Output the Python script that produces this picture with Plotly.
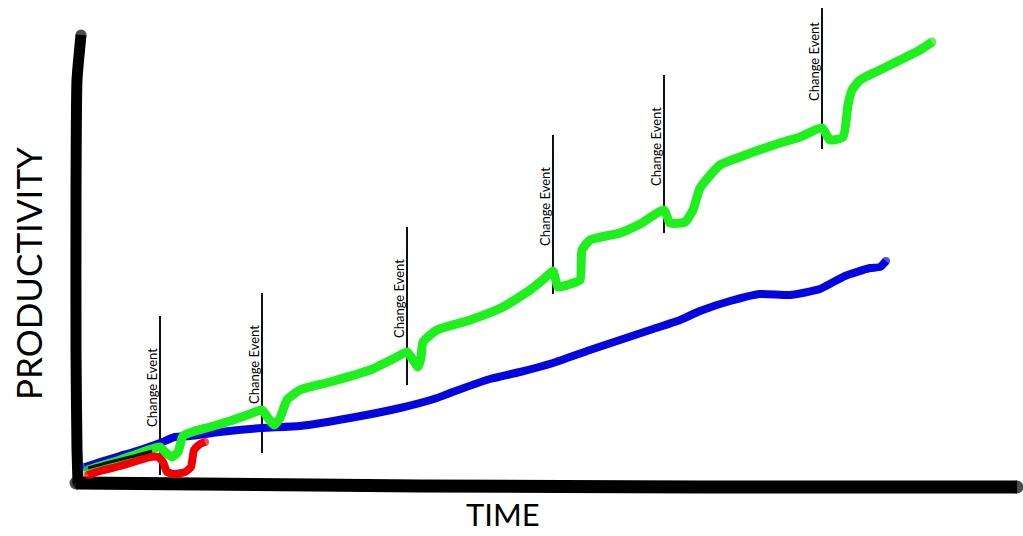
import plotly.graph_objects as go

# ---- data (time, productivity) ----
green_t = [8, 20, 40, 60, 80, 85, 92, 98, 103, 115, 130, 150, 170, 182, 188, 194, 200, 207, 220, 250,
           290, 315, 327, 333, 338, 341, 343, 357, 390, 423, 450, 465, 473, 478, 490, 500, 502, 510,
           540, 560, 584, 590, 605, 613, 620, 640, 660, 700, 720, 742, 750, 763, 768, 772, 780, 800,
           820, 840, 852]
green_p = [13, 17, 23, 30, 36, 31, 26, 31, 47, 52, 56, 62, 69, 73, 65, 58, 65, 83, 93, 101,
           113, 125, 131, 123, 116, 125, 141, 153, 163, 176, 193, 205, 212, 196, 199, 203, 233, 243,
           250, 259, 273, 260, 261, 273, 295, 318, 326, 340, 346, 355, 343, 346, 378, 393, 403, 413,
           423, 433, 441]

blue_t = [5, 20, 40, 60, 80, 95, 110, 140, 182, 220, 270, 320, 357, 370, 410, 440, 473, 510, 540,
          570, 600, 620, 650, 680, 710, 740, 765, 790, 800, 806]
blue_p = [16, 21, 27, 33, 40, 46, 47, 51, 55, 57, 65, 75, 85, 90, 104, 111, 120, 133, 143,
          153, 163, 172, 182, 189, 188, 194, 207, 215, 216, 222]

red_t = [8, 20, 40, 60, 70, 78, 83, 87, 95, 105, 111, 114, 120, 125]
red_p = [8, 12, 17, 23, 26, 26, 21, 11, 9, 11, 16, 33, 39, 41]

black_t = [8, 30, 50, 72]
black_p = [15, 21, 26, 32]

change_t = [80, 182, 327, 473, 584, 742]
change_low = [8, 30, 98, 189, 250, 334]
change_high = [167, 190, 256, 348, 408, 475]
change_label = "Change Event"

x_label = "TIME"
y_label = "PRODUCTIVITY"

# hand-drawn axes strokes
yaxis_t = [1, -3, -4, -4, -3, -2]
yaxis_p = [448, 403, 283, 133, 33, 0]
xaxis_t = [-4, 120, 340, 620, 937]
xaxis_p = [0, -1, -3, -4, -4]

FONT = "Lato, 'Open Sans', sans-serif"
GREEN = "#1EF01E"
BLUE = "#0505E0"
RED = "#F00000"

fig = go.Figure()


def stroke(t, p, color, width, name):
    sizes = [width] + [0] * (len(t) - 2) + [width]
    fig.add_trace(go.Scatter(
        x=t, y=p, mode="lines+markers", name=name,
        line=dict(color=color, width=width, shape="spline", smoothing=0.5),
        marker=dict(color=color, size=sizes, line=dict(width=0)),
        hoverinfo="skip", showlegend=False))


# axes
stroke(yaxis_t, yaxis_p, "black", 11, "y axis")
stroke(xaxis_t, xaxis_p, "black", 13, "x axis")

# change event lines
for t, lo, hi in zip(change_t, change_low, change_high):
    fig.add_trace(go.Scatter(x=[t, t], y=[lo, hi], mode="lines",
                             line=dict(color="#111111", width=2),
                             hoverinfo="skip", showlegend=False))

# series
stroke(blue_t, blue_p, BLUE, 8, "blue")
stroke(green_t, green_p, GREEN, 9, "green")
stroke(red_t, red_p, RED, 8, "red")
fig.add_trace(go.Scatter(x=black_t, y=black_p, mode="lines",
                         line=dict(color="#111111", width=3, shape="spline"),
                         hoverinfo="skip", showlegend=False))

# change-event labels
drops = [72, 72, 72, 72, 72, 54]
for t, hi, d in zip(change_t, change_high, drops):
    fig.add_annotation(x=t - 8, y=hi - d, text=change_label, textangle=-90,
                       showarrow=False, xanchor="center", yanchor="middle",
                       font=dict(family=FONT, size=13, color="black"))

fig.add_annotation(x=-52, y=209, text=y_label, textangle=-90, showarrow=False,
                   xanchor="center", yanchor="middle",
                   font=dict(family=FONT, size=35, color="black"))
fig.add_annotation(x=423, y=-53, text=x_label, showarrow=False,
                   xanchor="center", yanchor="bottom", yshift=1,
                   font=dict(family=FONT, size=31, color="black"))

fig.update_layout(
    width=1023, height=536,
    margin=dict(l=0, r=0, t=0, b=0),
    paper_bgcolor="white", plot_bgcolor="white",
    xaxis=dict(range=[-80, 943], visible=False, fixedrange=True),
    yaxis=dict(range=[-53, 483], visible=False, fixedrange=True),
    showlegend=False,
)

fig.write_html(
    "out.html",
    config={"displayModeBar": False},
    post_script="document.body.style.margin='0';document.body.style.overflow='hidden';",
)
